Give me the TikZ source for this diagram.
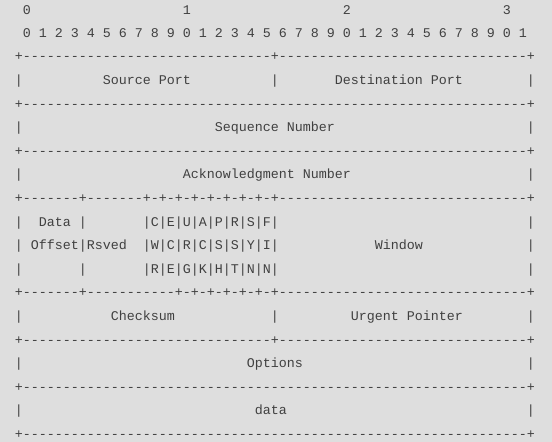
\documentclass[tikz,border=0pt]{standalone}
\usepackage{fontspec}
\usepackage{xcolor}

\newfontfamily\asciifont{Liberation Mono}
\definecolor{paper}{RGB}{222,222,222}
\definecolor{ink}{RGB}{64,64,64}

\newlength{\charw}
\setlength{\charw}{8pt}
\newcommand{\gap}[1]{\hspace*{#1\charw}}
\newcommand{\dashes}[1]{\foreach \k in {1,...,#1}{-}}

\tikzset{ascii/.style={anchor=base west,inner sep=0pt,outer sep=0pt,text=ink,
    font=\asciifont\fontsize{13.33pt}{16pt}\selectfont}}

\begin{document}
\begin{tikzpicture}[x=1pt,y=1pt]
            \fill[paper] (0,0) rectangle (552,442);
            \useasboundingbox (0,0) rectangle (552,442);

            % bit numbers
            \node[ascii] (tens) at (15,427.6) {\gap{1}0\gap{19}1\gap{19}2\gap{19}3};
            \node[ascii] (ones) at (15,404.6) {\foreach \b in {0,...,31}{\gap{1}\pgfmathparse{int(mod(\b,10))}\pgfmathresult}};

            % header words
            \node[ascii] (sep0) at (15,381.0) {+\dashes{31}+\dashes{31}+};
            \node[ascii] (ports) at (15,357.4) {|\gap{10}Source Port\gap{10}|\gap{7}Destination Port\gap{8}|};
            \node[ascii] (sep1) at (15,333.8) {+\dashes{63}+};
            \node[ascii] (seq) at (15,310.2) {|\gap{24}Sequence Number\gap{24}|};
            \node[ascii] (sep2) at (15,286.6) {+\dashes{63}+};
            \node[ascii] (ack) at (15,263.0) {|\gap{20}Acknowledgment Number\gap{22}|};
            \node[ascii] (sep3) at (15,239.4) {+\dashes{7}+\dashes{7}+-+-+-+-+-+-+-+-+\dashes{31}+};
            \node[ascii] (flagsA) at (15,215.8) {|\gap{2}Data\gap{1}|\gap{7}|C|E|U|A|P|R|S|F|\gap{31}|};
            \node[ascii] (flagsB) at (15,192.2) {|\gap{1}Offset|Rsved\gap{2}|W|C|R|C|S|S|Y|I|\gap{12}Window\gap{13}|};
            \node[ascii] (flagsC) at (15,168.6) {|\gap{7}|\gap{7}|R|E|G|K|H|T|N|N|\gap{31}|};
            \node[ascii] (sep4) at (15,145.0) {+\dashes{7}+\dashes{11}+-+-+-+-+-+-+\dashes{31}+};
            \node[ascii] (check) at (15,121.4) {|\gap{11}Checksum\gap{12}|\gap{9}Urgent Pointer\gap{8}|};
            \node[ascii] (sep5) at (15,97.8) {+\dashes{31}+\dashes{31}+};
            \node[ascii] (opts) at (15,74.2) {|\gap{28}Options\gap{28}|};
            \node[ascii] (sep6) at (15,50.6) {+\dashes{63}+};
            \node[ascii] (data) at (15,27.0) {|\gap{29}data\gap{30}|};
            \node[ascii] (sep7) at (15,3.4) {+\dashes{63}+};
        \end{tikzpicture}
\end{document}
